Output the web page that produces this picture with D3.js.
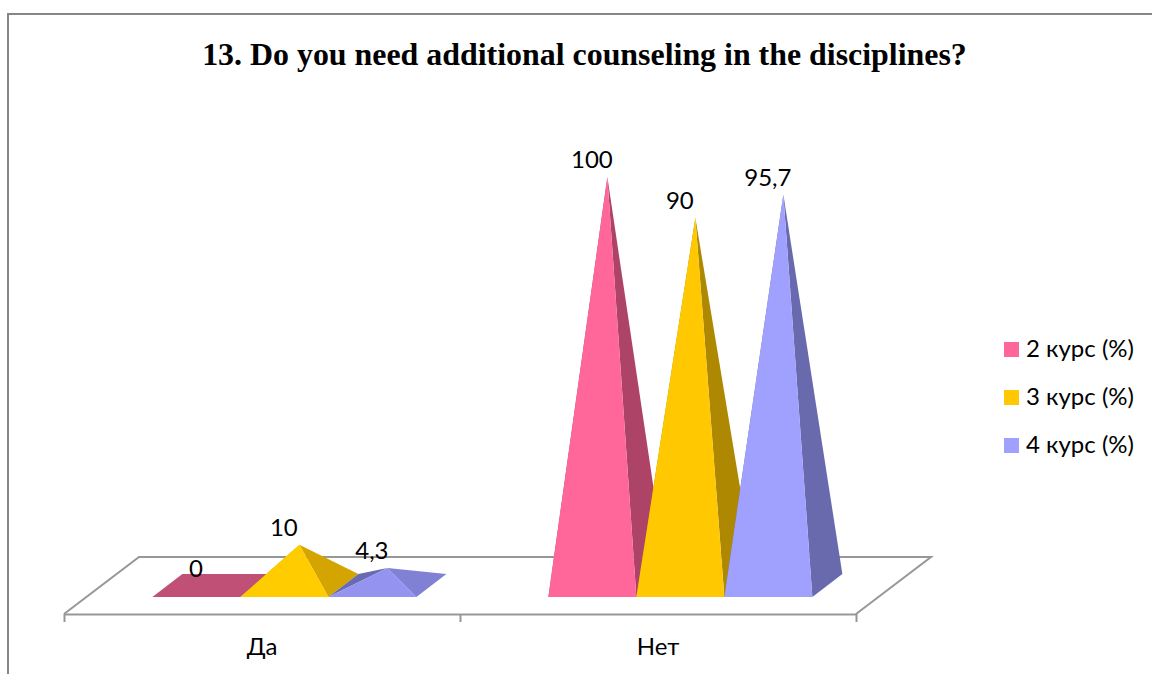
<!DOCTYPE html>
<html><head><meta charset="utf-8">
<style>html,body{margin:0;padding:0;background:#fff;overflow:hidden}svg{display:block}</style>
<script src="https://cdnjs.cloudflare.com/ajax/libs/d3/7.8.5/d3.min.js"></script>
</head><body><svg id="c" width="1152" height="674"></svg>
<script>
const title = "13. Do you need additional counseling in the disciplines?";
const categories = ["Да", "Нет"];
const seriesNames = ["2 курс (%)", "3 курс (%)", "4 курс (%)"];
const values2 = [0, 100];
const values3 = [10, 90];
const values4 = [4.3, 95.7];
const labels2 = ["0", "100"];
const labels3 = ["10", "90"];
const labels4 = ["4,3", "95,7"];
const frontColors = ["#FF6699", "#FFC800", "#A0A0FF"];
const sideColors = ["#AD4468", "#AD8800", "#686AAD"];
const lowFrontColors = ["#C05075", "#FFCC00", "#9494F0"];
const lowSideColors = ["#C05075", "#D4A500", "#8080D4"];
const lowBackColors = ["#C05075", "#D4A500", "#6A6AB0"];

const allValues = [values2, values3, values4];
const allLabels = [labels2, labels3, labels4];
const svg = d3.select("#c");
const font = "Lato, Carlito, 'Noto Sans', sans-serif";
const grey = "#979797";

// Frame (open at right and bottom, as cropped in the source)
svg.append("path").attr("d", "M8,674V14H1152").attr("fill", "none").attr("stroke", "#868686").attr("stroke-width", 2);

svg.append("text").attr("x", 584.5).attr("y", 65).attr("text-anchor", "middle")
  .attr("font-family", "'Liberation Serif', serif").attr("font-weight", "bold").attr("font-size", 31.9)
  .attr("fill", "#000").text(title);

// Floor geometry
const floor = {left: 64, right: 856, front: 614, back: 557, dx: 75};
const baseFrontY = 597, baseDepthX = 30, baseDepthY = 23;
const skew = (floor.front - baseFrontY) * floor.dx / (floor.front - floor.back);

svg.append("path")
  .attr("d", d3.line()([[floor.left, floor.front], [floor.left + floor.dx, floor.back], [floor.right + floor.dx, floor.back], [floor.right, floor.front]]))
  .attr("fill", "none").attr("stroke", grey).attr("stroke-width", 2);

// Scales
const xGroup = d3.scaleBand().domain(categories).range([floor.left, floor.right]);
const xSeries = d3.scaleBand().domain(d3.range(seriesNames.length)).range([0, xGroup.bandwidth()]).paddingInner(0).paddingOuter(0.75);
const baseCenterY = baseFrontY - baseDepthY / 2;
const y = d3.scaleLinear().domain([0, 100]).range([baseCenterY, 177]);

// Axes
const xTicks = d3.scaleLinear().domain([0, categories.length]).range([floor.left, floor.right]);
const axisTicks = svg.append("g").attr("transform", `translate(0,${floor.front})`)
  .call(d3.axisBottom(xTicks).tickValues(d3.range(categories.length + 1)).tickFormat("").tickSize(8).tickSizeOuter(0));
axisTicks.select(".domain").attr("stroke", grey).attr("stroke-width", 2);
axisTicks.selectAll("line").attr("stroke", grey).attr("stroke-width", 2);

const axisLabels = svg.append("g").attr("transform", `translate(0,${floor.front})`)
  .call(d3.axisBottom(xGroup).tickSize(0).tickPadding(24));
axisLabels.select(".domain").remove();
axisLabels.selectAll("text").attr("font-family", font).attr("font-size", 24).attr("fill", "#000");

// Pyramids
const line = d3.line();
const marks = svg.append("g");
const labelsLayer = svg.append("g");
categories.forEach((cat, ci) => {
  seriesNames.forEach((s, si) => {
    const v = allValues[si][ci];
    const low = v < 50;
    const fl = xGroup(cat) + xSeries(si) + skew;
    const w = xSeries.bandwidth();
    const fr = fl + w;
    const bl = [fl + baseDepthX, baseFrontY - baseDepthY];
    const br = [fr + baseDepthX, baseFrontY - baseDepthY];
    const apex = [fl + w / 2 + baseDepthX / 2, y(v)];
    const g = marks.append("g");
    if (v === 0) {
      g.append("path").attr("d", line([[fl, baseFrontY], [fr, baseFrontY], br, bl]) + "Z").attr("fill", lowFrontColors[si]);
    } else {
      g.append("path").attr("d", line([[fl, baseFrontY], bl, apex]) + "Z").attr("fill", low ? lowBackColors[si] : sideColors[si]);
      g.append("path").attr("d", line([[fr, baseFrontY], br, apex]) + "Z").attr("fill", low ? lowSideColors[si] : sideColors[si]);
      g.append("path").attr("d", line([[fl, baseFrontY], [fr, baseFrontY], apex]) + "Z").attr("fill", low ? lowFrontColors[si] : frontColors[si]);
    }
    labelsLayer.append("text").attr("x", apex[0] - 15.5).attr("y", apex[1] - 9).attr("text-anchor", "middle")
      .attr("font-family", font).attr("font-size", 24).attr("fill", "#000").text(allLabels[si][ci]);
  });
});

// Legend
const legendY = d3.scalePoint().domain(seriesNames).range([349, 445]);
const legend = svg.append("g");
seriesNames.forEach((s, i) => {
  legend.append("rect").attr("x", 1004).attr("y", legendY(s) - 7).attr("width", 15).attr("height", 15).attr("fill", frontColors[i]);
  legend.append("text").attr("x", 1026).attr("y", legendY(s) + 8).attr("font-family", font).attr("font-size", 24).attr("fill", "#000").text(s);
});
</script></body></html>
